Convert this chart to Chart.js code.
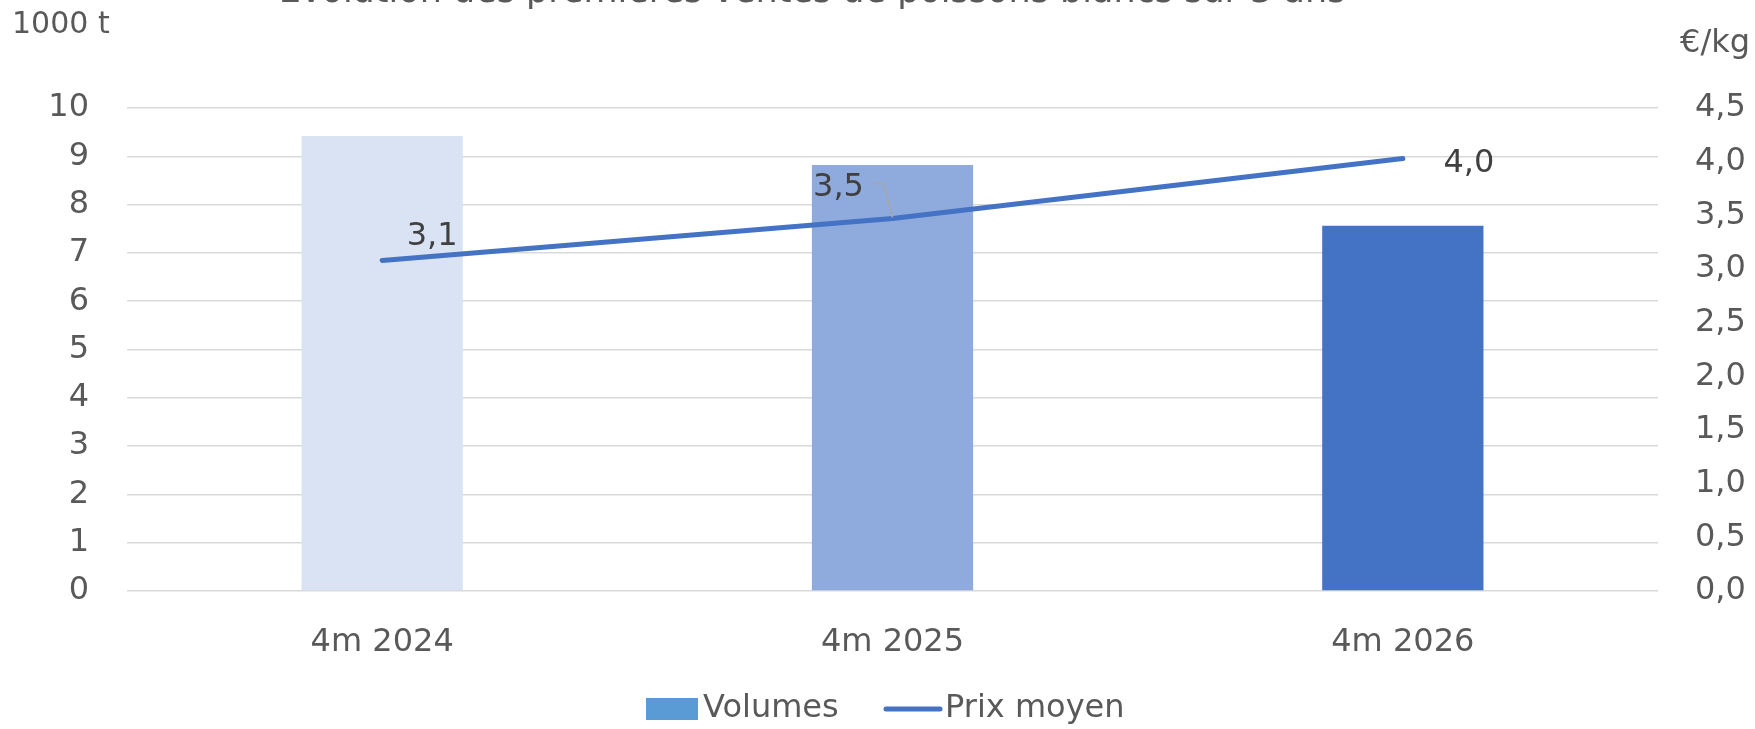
<!DOCTYPE html>
<html>
<head>
<meta charset="utf-8">
<script src="https://cdn.jsdelivr.net/npm/chart.js@4.4.1/dist/chart.umd.min.js"></script>
<style>
  html, body { margin: 0; padding: 0; background: #ffffff; }
  #wrap { width: 1755px; height: 729px; position: relative; }
</style>
</head>
<body>
<div id="wrap"><canvas id="c" width="1755" height="729"></canvas></div>
<script>
// ---------------- DATA ----------------
const chartTitle = 'Évolution des premières ventes de poissons blancs sur 3 ans';
const categories = ['4m 2024', '4m 2025', '4m 2026'];
const volumes = [9.42, 8.82, 7.56];          // 1000 t (left axis)
const prices = [3.08, 3.47, 4.03];           // €/kg (right axis)
const priceLabels = ['3,1', '3,5', '4,0'];
const seriesNames = ['Volumes', 'Prix moyen'];
const leftAxisTitle = '1000 t';
const rightAxisTitle = '€/kg';

// ---------------- STYLE ----------------
const FONT = '"DejaVu Sans", sans-serif';
const TEXT = '#595959';
const LABEL = '#404040';
const GRID = '#D9D9D9';
const barFill = ['#DAE3F3', '#8FAADC', '#4472C4'];
const legendBarColor = '#5B9BD5';
const lineColor = '#4472C4';
const labelOffsets = [[50, -24], [-54, -31], [66, 5]];

const fmtComma = v => Number(v).toFixed(1).replace('.', ',');

const decorPlugin = {
  id: 'decor',
  beforeDraw(chart) {
    const ctx = chart.ctx;
    ctx.save();
    ctx.fillStyle = '#ffffff';
    ctx.fillRect(0, 0, chart.width, chart.height);
    ctx.fillStyle = TEXT;
    ctx.font = '35px ' + FONT;
    ctx.textAlign = 'center';
    ctx.textBaseline = 'alphabetic';
    ctx.fillText(chartTitle, 812, 2);
    ctx.font = '30px ' + FONT;
    ctx.textBaseline = 'middle';
    ctx.textAlign = 'left';
    ctx.fillText(leftAxisTitle, 12, 25);
    ctx.font = '32px ' + FONT;
    ctx.textAlign = 'right';
    ctx.fillText(rightAxisTitle, 1750, 44);
    ctx.restore();
  },
  afterDatasetsDraw(chart) {
    const ctx = chart.ctx;
    const meta = chart.getDatasetMeta(1);
    ctx.save();
    ctx.font = '32px ' + FONT;
    ctx.fillStyle = LABEL;
    ctx.textAlign = 'center';
    ctx.textBaseline = 'middle';
    meta.data.forEach((pt, i) => {
      const [dx, dy] = labelOffsets[i];
      ctx.fillText(priceLabels[i], pt.x + dx, pt.y + dy);
    });
    // leader line for the middle label
    const p = meta.data[1];
    ctx.strokeStyle = '#A6A6A6';
    ctx.lineWidth = 1.5;
    ctx.beginPath();
    ctx.moveTo(p.x - 20, p.y - 35);
    ctx.lineTo(p.x - 9, p.y - 35);
    ctx.lineTo(p.x, p.y - 1);
    ctx.stroke();
    ctx.restore();
  },
  afterDraw(chart) {
    // legend
    const ctx = chart.ctx;
    ctx.save();
    const ly = 709;
    ctx.fillStyle = legendBarColor;
    ctx.fillRect(646, ly - 11, 52, 22);
    ctx.strokeStyle = lineColor;
    ctx.lineWidth = 5;
    ctx.lineCap = 'round';
    ctx.beginPath();
    ctx.moveTo(886, ly);
    ctx.lineTo(940, ly);
    ctx.stroke();
    ctx.fillStyle = TEXT;
    ctx.font = '32px ' + FONT;
    ctx.textAlign = 'left';
    ctx.textBaseline = 'middle';
    ctx.fillText(seriesNames[0], 703, ly);
    ctx.fillText(seriesNames[1], 945, ly);
    ctx.restore();
  }
};

new Chart(document.getElementById('c'), {
  data: {
    labels: categories,
    datasets: [
      {
        type: 'bar',
        label: seriesNames[0],
        data: volumes,
        backgroundColor: barFill,
        borderWidth: 0,
        yAxisID: 'y',
        order: 1,
        barPercentage: 1,
        categoryPercentage: 0.316
      },
      {
        type: 'line',
        label: seriesNames[1],
        data: prices,
        borderColor: lineColor,
        backgroundColor: lineColor,
        borderWidth: 5,
        borderCapStyle: 'round',
        borderJoinStyle: 'round',
        pointRadius: 0,
        tension: 0,
        yAxisID: 'y1',
        order: 0
      }
    ]
  },
  options: {
    responsive: false,
    animation: false,
    devicePixelRatio: 1,
    layout: { padding: { top: 108, left: 0, right: 0, bottom: 41 } },
    plugins: {
      title: { display: false },
      tooltip: { enabled: false },
      legend: { display: false }
    },
    scales: {
      x: {
        grid: { display: false, drawTicks: false },
        border: { display: false },
        ticks: { color: TEXT, font: { family: FONT, size: 32 }, padding: 32 },
        afterFit(s) { s.height = 97; }
      },
      y: {
        position: 'left',
        min: 0, max: 10,
        ticks: { stepSize: 1, color: TEXT, font: { family: FONT, size: 32 }, padding: 38 },
        grid: { color: GRID, lineWidth: 1.5, drawTicks: false },
        border: { display: false },
        afterFit(s) { s.width = 127; }
      },
      y1: {
        position: 'right',
        min: 0, max: 4.5,
        ticks: { stepSize: 0.5, color: TEXT, font: { family: FONT, size: 32 }, padding: 37, callback: v => fmtComma(v) },
        grid: { display: false, drawTicks: false },
        border: { display: false },
        afterFit(s) { s.width = 97; }
      }
    }
  },
  plugins: [decorPlugin]
});
</script>
</body>
</html>
